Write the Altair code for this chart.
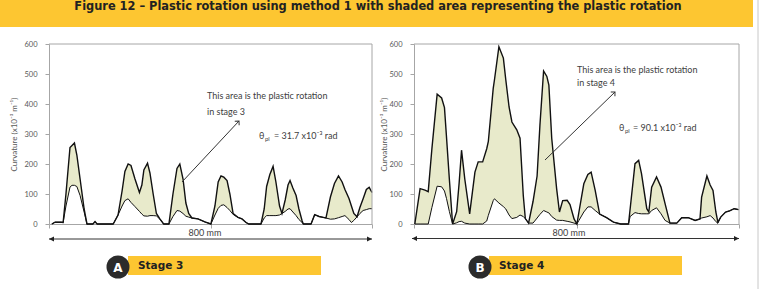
import altair as alt
import pandas as pd

# ---------------------------------------------------------------------------
# Curvature along the 800 mm hinge region.
# total   = upper envelope (total curvature)
# elastic = lower envelope (elastic curvature)
# The band between them is the plastic rotation.  Units: x10^-3 m^-1
# ---------------------------------------------------------------------------
stage3_pos = [7, 15, 30, 35, 42, 52, 57, 63, 69, 77,
              87, 94, 109, 114, 119, 159, 171, 181, 188, 196,
              203, 213, 224, 230, 235, 244, 250, 258, 266, 275,
              284, 297, 307, 317, 324, 332, 339, 346, 354, 369,
              386, 401, 411, 419, 426, 433, 441, 448, 456, 468,
              478, 488, 495, 525, 533, 539, 547, 555, 562, 571,
              577, 585, 592, 597, 604, 612, 619, 627, 630, 649,
              658, 669, 679, 686, 697, 707, 717, 726, 733, 743,
              749, 755, 763, 770, 778, 786, 793, 800]
stage3_total = [0, 6, 6, 5, 100, 255, 262, 270, 230, 150,
                50, 0, 0, 8, 0, 0, 30, 110, 175, 200,
                195, 150, 105, 130, 180, 203, 170, 100, 35, 16,
                0, 0, 100, 185, 200, 150, 70, 35, 20, 17,
                7, 0, 60, 140, 160, 156, 145, 100, 35, 22,
                17, 5, 0, 0, 50, 125, 165, 192, 140, 60,
                35, 80, 130, 145, 120, 95, 50, 10, 0, 0,
                31, 25, 22, 20, 90, 135, 160, 140, 115, 85,
                60, 35, 24, 55, 84, 115, 122, 105]
stage3_elastic = [0, 6, 6, 5, 60, 123, 129, 129, 125, 95,
                  40, 0, 0, 8, 0, 0, 30, 60, 78, 84,
                  72, 58, 42, 33, 27, 26, 28, 28, 27, 16,
                  0, 0, 25, 45, 43, 35, 26, 23, 20, 17,
                  7, 0, 30, 52, 62, 64, 55, 45, 32, 22,
                  17, 5, 0, 0, 20, 28, 28, 28, 28, 30,
                  35, 42, 50, 51, 40, 28, 15, 5, 0, 0,
                  31, 25, 22, 20, 16, 17, 21, 25, 28, 15,
                  5, 12, 24, 35, 45, 48, 51, 51]

stage4_pos = [2, 15, 27, 35, 44, 57, 68, 75, 80, 87,
              95, 105, 111, 117, 125, 137, 150, 158, 169, 179,
              183, 195, 198, 209, 220, 226, 234, 241, 253, 261,
              269, 274, 282, 293, 303, 310, 319, 327, 332, 339,
              351, 358, 366, 377, 384, 394, 401, 406, 418, 428,
              436, 446, 457, 474, 491, 509, 528, 532, 544, 553,
              560, 573, 578, 585, 597, 608, 618, 630, 647, 659,
              675, 692, 704, 708, 721, 729, 736, 743, 748, 755,
              767, 777, 788, 799]
stage4_total = [0, 118, 113, 108, 250, 433, 420, 388, 290, 150,
                0, 41, 135, 246, 150, 34, 173, 207, 207, 251,
                275, 452, 480, 591, 553, 480, 390, 340, 314, 286,
                95, 18, 3, 75, 160, 330, 510, 492, 463, 286,
                119, 40, 78, 79, 65, 17, 0, 40, 134, 165,
                173, 112, 33, 21, 6, 0, 0, 50, 201, 212,
                168, 51, 40, 123, 157, 123, 68, 3, 3, 21,
                21, 12, 17, 90, 160, 130, 112, 40, 6, 23,
                40, 44, 51, 48]
stage4_elastic = [0, 0, 0, 0, 55, 126, 124, 110, 85, 42,
                  0, 4, 8, 9, 3, 0, 0, 0, 0, 10,
                  29, 78, 84, 70, 58, 50, 30, 18, 22, 30,
                  25, 18, 3, 3, 20, 32, 45, 40, 37, 25,
                  13, 12, 12, 9, 7, 3, 0, 12, 40, 57,
                  57, 45, 33, 21, 6, 0, 0, 25, 38, 35,
                  34, 34, 34, 45, 54, 34, 12, 3, 3, 21,
                  21, 12, 17, 20, 24, 28, 20, 8, 3, 23,
                  40, 44, 51, 48]

y_ticks = [0, 100, 200, 300, 400, 500, 600]
x_ticks = [0, 400, 800]

figure_title = "Figure 12 \u2013 Plastic rotation using method 1 with shaded area representing the plastic rotation"
y_title = "Curvature (x10\u207b\u00b3 m\u207b\u00b9)"
note_lines = ["This area is the plastic rotation", "in stage 3", "in stage 4"]
rotation_values = ["= 31.7 x10\u207b\u00b3 rad", "= 90.1 x10\u207b\u00b3 rad"]
stage_labels = ["Stage 3", "Stage 4"]
badge_letters = ["A", "B"]
span_label = "800 mm"

# ---------------------------------------------------------------------------
# Layout: one plot area holding both panels side by side
# ---------------------------------------------------------------------------
W, H = 690, 180
PAD_L, PAD_T = 49, 44
LEFT_RANGE = [0, 323]
RIGHT_RANGE = [365, 690]

FONT = "Lato"
HEAD_FONT = "DejaVu Sans"
SHADE = "#e8eacb"
INK = "#111111"
AXIS_GRAY = "#a6a6a6"
LABEL_GRAY = "#595959"
TEXT_GRAY = "#404040"
YELLOW = "#fdc631"
BADGE = "#2b2b2b"


def panel(pos, total, elastic, x_range, axis_offset, title_x):
    df = pd.DataFrame({"pos": pos, "total": total, "elastic": elastic})
    x_enc = alt.X(
        "pos:Q",
        scale=alt.Scale(domain=[0, 800], range=x_range, nice=False, zero=False),
        axis=alt.Axis(orient="bottom", values=x_ticks, labels=False, tickSize=4,
                      grid=False, domainColor=AXIS_GRAY, tickColor=AXIS_GRAY, title=None),
    )
    y_scale = alt.Scale(domain=[0, 600], nice=False)
    y_axis = alt.Axis(
        orient="left", offset=axis_offset, values=y_ticks, grid=False, tickSize=4,
        labelPadding=8, labelFont=FONT, labelFontSize=7.5, labelColor=LABEL_GRAY,
        domainColor=AXIS_GRAY, tickColor=AXIS_GRAY,
        title=y_title, titleFont=FONT, titleFontSize=8, titleColor=LABEL_GRAY,
        titleFontWeight="normal", titleX=title_x, titleY=H / 2, titleAngle=270,
        titleBaseline="middle", titleAlign="center",
    )
    band = alt.Chart(df).mark_area(color=SHADE, opacity=1).encode(
        x=x_enc, y=alt.Y("total:Q", scale=y_scale, axis=y_axis), y2="elastic:Q")
    lower = alt.Chart(df).mark_line(color=INK, strokeWidth=1).encode(
        x=x_enc, y=alt.Y("elastic:Q", scale=y_scale, axis=y_axis))
    upper = alt.Chart(df).mark_line(color=INK, strokeWidth=1.4).encode(
        x=x_enc, y=alt.Y("total:Q", scale=y_scale, axis=y_axis))
    return alt.layer(band, lower, upper)


one = pd.DataFrame({"k": [0]})


def rule(x1, y1, x2, y2, color, width=1):
    return alt.Chart(one).mark_rule(color=color, strokeWidth=width).encode(
        x=alt.value(x1), y=alt.value(y1), x2=alt.value(x2), y2=alt.value(y2))


def box(x1, y1, x2, y2, color):
    return alt.Chart(one).mark_rect(color=color).encode(
        x=alt.value(x1), y=alt.value(y1), x2=alt.value(x2), y2=alt.value(y2))


def label(s, x, y, size=9, color=TEXT_GRAY, align="left", weight="normal", font=FONT,
          baseline="middle"):
    return alt.Chart(one).mark_text(
        align=align, baseline=baseline, font=font, fontSize=size, color=color,
        fontWeight=weight).encode(x=alt.value(x), y=alt.value(y), text=alt.value(s))


def glyph(shape, x, y, size, color, angle=0, filled=True):
    return alt.Chart(one).mark_point(
        shape=shape, size=size, angle=angle, filled=filled, color=color, opacity=1,
        strokeWidth=1).encode(x=alt.value(x), y=alt.value(y))


ARROW_R = "M0,0L-2,-1L-2,1Z"
ARROW_L = "M0,0L2,-1L2,1Z"
CHEVRON = "M-1,1L0,0L1,1"

decor = [
    # heading band and right page edge
    box(-PAD_L, -PAD_T, 704, -17, YELLOW),
    label(figure_title, 329, -34, size=11.4, color="#222222", align="center",
          weight="bold", font=HEAD_FONT, baseline="alphabetic"),
    rule(709, -PAD_T, 709, 245, "#c8c8c8"),
    # plot frames (top and right edges)
    rule(0, 0, 323, 0, AXIS_GRAY), rule(323, 0, 323, H, AXIS_GRAY),
    rule(365, 0, 690, 0, AXIS_GRAY), rule(690, 0, 690, H, AXIS_GRAY),
    # 800 mm dimension lines
    rule(0, 195, 323, 195, "#333333"),
    glyph(ARROW_L, 0, 195, 25, "#222222"), glyph(ARROW_R, 323, 195, 25, "#222222"),
    label(span_label, 156, 192, size=9, color="#404040", align="center", baseline="alphabetic"),
    rule(363, 194.5, 690, 194.5, "#333333"),
    glyph(ARROW_L, 363, 194.5, 25, "#222222"), glyph(ARROW_R, 690, 194.5, 25, "#222222"),
    label(span_label, 520, 191.5, size=9, color="#404040", align="center", baseline="alphabetic"),
    # annotations, stage 3
    label(note_lines[0], 158, 52), label(note_lines[1], 158, 68),
    rule(133, 138, 190, 77, "#333333"), glyph(CHEVRON, 190, 77, 36, "#333333", angle=43, filled=False),
    label("\u03b8", 210, 92), label("pl", 216, 95, size=6), label(rotation_values[0], 225, 92),
    # annotations, stage 4
    label(note_lines[0], 528, 26), label(note_lines[2], 528, 39),
    rule(496, 116, 566, 48, "#333333"), glyph(CHEVRON, 566, 48, 36, "#333333", angle=46, filled=False),
    label("\u03b8", 570, 84), label("pl", 576, 87, size=6), label(rotation_values[1], 584, 84),
    # stage badges
    box(79, 212, 272, 231, YELLOW),
    glyph("circle", 69, 223, 529, BADGE),
    label(badge_letters[0], 69, 223.5, size=12, color="white", align="center", weight="bold", font=HEAD_FONT),
    label(stage_labels[0], 89, 222, size=10.5, color="#222222", weight="bold", font=HEAD_FONT),
    box(440, 212, 633, 231, YELLOW),
    glyph("circle", 431, 223, 529, BADGE),
    label(badge_letters[1], 431, 223.5, size=12, color="white", align="center", weight="bold", font=HEAD_FONT),
    label(stage_labels[1], 450, 222, size=10.5, color="#222222", weight="bold", font=HEAD_FONT),
]

stage3 = panel(stage3_pos, stage3_total, stage3_elastic, LEFT_RANGE, 0, -35)
stage4 = panel(stage4_pos, stage4_total, stage4_elastic, RIGHT_RANGE, -365, -30)

chart = (
    alt.layer(stage3, stage4, *decor)
    .resolve_scale(x="independent", y="independent")
    .properties(
        width=W, height=H,
        padding={"left": PAD_L, "top": PAD_T, "right": 764 - PAD_L - W, "bottom": 289 - PAD_T - H},
        autosize=alt.AutoSizeParams(type="none"),
        background="white",
    )
    .configure_view(stroke=None)
)

chart.save("out.html", embed_options={"renderer": "svg", "actions": False})
